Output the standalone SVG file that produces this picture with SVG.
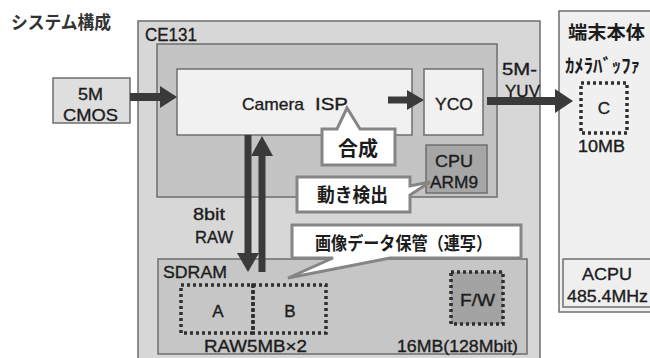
<svg xmlns="http://www.w3.org/2000/svg" width="650" height="358" viewBox="0 0 650 358">
<style>
text{font-family:"Liberation Sans","Noto Sans CJK JP",sans-serif;fill:#1c1c1c;stroke:#1c1c1c;stroke-width:0.35;}
.jp{font-family:"Noto Sans CJK JP",sans-serif;font-weight:700;stroke:none;}
.box{stroke:#6e6e6e;stroke-width:1.5;}
.dot{fill:none;stroke:#2e2e2e;stroke-width:3.5;stroke-dasharray:3 3;}
.call{fill:#fff;stroke:#858585;stroke-width:3;stroke-linejoin:miter;}
.sh{stroke:#3a3a3a;fill:none;}
.hd{fill:#3a3a3a;}
.c{text-anchor:middle;}
</style>
<rect width="650" height="358" fill="#fff"/>
<text x="11" y="29" class="jp" font-size="18" style="fill:#333" textLength="100" lengthAdjust="spacingAndGlyphs">システム構成</text>

<g id="ce131">
<rect class="box" x="138" y="21" width="402" height="345" fill="#d7d7d7"/>
<text x="145" y="41" font-size="18" textLength="52" lengthAdjust="spacingAndGlyphs">CE131</text>
</g>
<g id="ce131-core">
<rect class="box" x="157" y="44" width="340" height="153" fill="#c4c4c4"/>
</g>
<g id="camera-isp">
<rect class="box" x="177" y="69" width="235" height="66" fill="#f1f1f1"/>
<text x="242" y="110" font-size="17" textLength="62" lengthAdjust="spacingAndGlyphs">Camera</text>
<text x="315" y="110" font-size="17" textLength="33" lengthAdjust="spacingAndGlyphs">ISP</text>
</g>
<g id="yco">
<rect class="box" x="424" y="69" width="59" height="66" fill="#f1f1f1"/>
<text x="435" y="110" font-size="17" textLength="38" lengthAdjust="spacingAndGlyphs">YCO</text>
</g>
<g id="cpu">
<rect class="box" x="426" y="145" width="61" height="48" fill="#a6a6a6"/>
<text x="435" y="167" font-size="17" textLength="38" lengthAdjust="spacingAndGlyphs">CPU</text>
<text x="430" y="188" font-size="16" textLength="48" lengthAdjust="spacingAndGlyphs">ARM9</text>
</g>
<g id="cmos">
<rect class="box" x="53" y="78" width="77" height="45" fill="#dedede"/>
<text x="78" y="100" font-size="17" textLength="25" lengthAdjust="spacingAndGlyphs">5M</text>
<text x="63" y="121" font-size="17" textLength="55" lengthAdjust="spacingAndGlyphs">CMOS</text>
</g>
<g id="terminal">
<rect class="box" x="559" y="11" width="100" height="301" fill="#f0f0f0"/>
<text x="568" y="39" class="jp" font-size="18" textLength="77" lengthAdjust="spacingAndGlyphs">端末本体</text>
<text x="565" y="73" class="jp" font-size="19" textLength="75" lengthAdjust="spacingAndGlyphs">ｶﾒﾗﾊﾞｯﾌｧ</text>
</g>
<g id="buffer-c">
<rect class="dot" x="581" y="83" width="46" height="50" fill="none"/>
<text x="604" y="114" class="c" font-size="17">C</text>
<text x="578" y="152" font-size="16" textLength="47" lengthAdjust="spacingAndGlyphs">10MB</text>
</g>
<g id="acpu">
<rect class="box" x="563" y="259" width="92" height="48" fill="#efefef"/>
<text x="582" y="280" font-size="17" textLength="50" lengthAdjust="spacingAndGlyphs">ACPU</text>
<text x="567" y="302" font-size="16" textLength="81" lengthAdjust="spacingAndGlyphs">485.4MHz</text>
</g>
<g id="sdram">
<rect class="box" x="158" y="259" width="369" height="95" fill="#c6c6c6"/>
<text x="163" y="278" font-size="17" textLength="64" lengthAdjust="spacingAndGlyphs">SDRAM</text>
<text x="204" y="352" font-size="16" textLength="103" lengthAdjust="spacingAndGlyphs">RAW5MB×2</text>
<text x="397" y="352" font-size="16" textLength="121" lengthAdjust="spacingAndGlyphs">16MB(128Mbit)</text>
</g>
<g id="buf-a">
<rect class="dot" x="181" y="285" width="72" height="48"/>
<text x="218" y="317" class="c" font-size="17">A</text>
</g>
<g id="buf-b">
<rect class="dot" x="253" y="285" width="73" height="48"/>
<text x="290" y="317" class="c" font-size="17">B</text>
</g>
<g id="fw">
<rect class="dot" x="451" y="272" width="52" height="52" style="fill:#a3a3a3"/>
<text x="460" y="306" font-size="17" textLength="35" lengthAdjust="spacingAndGlyphs">F/W</text>
</g>

<g id="connectors">
<line class="sh" x1="130" y1="97" x2="162" y2="97" stroke-width="8"/>
<polygon class="hd" points="160,86 177,97 160,108"/>
<line class="sh" x1="388" y1="100" x2="409" y2="100" stroke-width="7"/>
<polygon class="hd" points="407,90 424,100 407,110"/>
<line class="sh" x1="487" y1="101" x2="557" y2="101" stroke-width="8"/>
<polygon class="hd" points="555,89 573,101 555,113"/>
<line class="sh" x1="248" y1="135" x2="248" y2="256" stroke-width="7"/>
<polygon class="hd" points="237,253 259,253 248,272"/>
<line class="sh" x1="262" y1="272" x2="262" y2="153" stroke-width="7"/>
<polygon class="hd" points="251,156 273,156 262,136"/>
<text x="193" y="220" font-size="16" textLength="32" lengthAdjust="spacingAndGlyphs">8bit</text>
<text x="195" y="243" font-size="16" textLength="38" lengthAdjust="spacingAndGlyphs">RAW</text>
<text x="502" y="75" font-size="16" textLength="35" lengthAdjust="spacingAndGlyphs">5M-</text>
<text x="505" y="97" font-size="16" textLength="35" lengthAdjust="spacingAndGlyphs">YUV</text>
</g>

<g id="callout-gousei">
<path class="call" d="M322,129 H337 L347,108 L360,129 H395 V165 H322 Z"/>
<text x="358" y="156" class="jp c" font-size="20" textLength="40" lengthAdjust="spacingAndGlyphs">合成</text>
</g>
<g id="callout-motion">
<path class="call" d="M297,177 H410 V186 L430,182 L410,195 V212 H297 Z"/>
<text x="317" y="202" class="jp" font-size="19" textLength="71" lengthAdjust="spacingAndGlyphs">動き検出</text>
</g>
<g id="callout-storage">
<path class="call" d="M292,225 H521 V258 H390 L288,278 L333,258 H292 Z"/>
<text x="315" y="250" class="jp" font-size="18" textLength="177" lengthAdjust="spacingAndGlyphs">画像データ保管（連写）</text>
</g>
</svg>
